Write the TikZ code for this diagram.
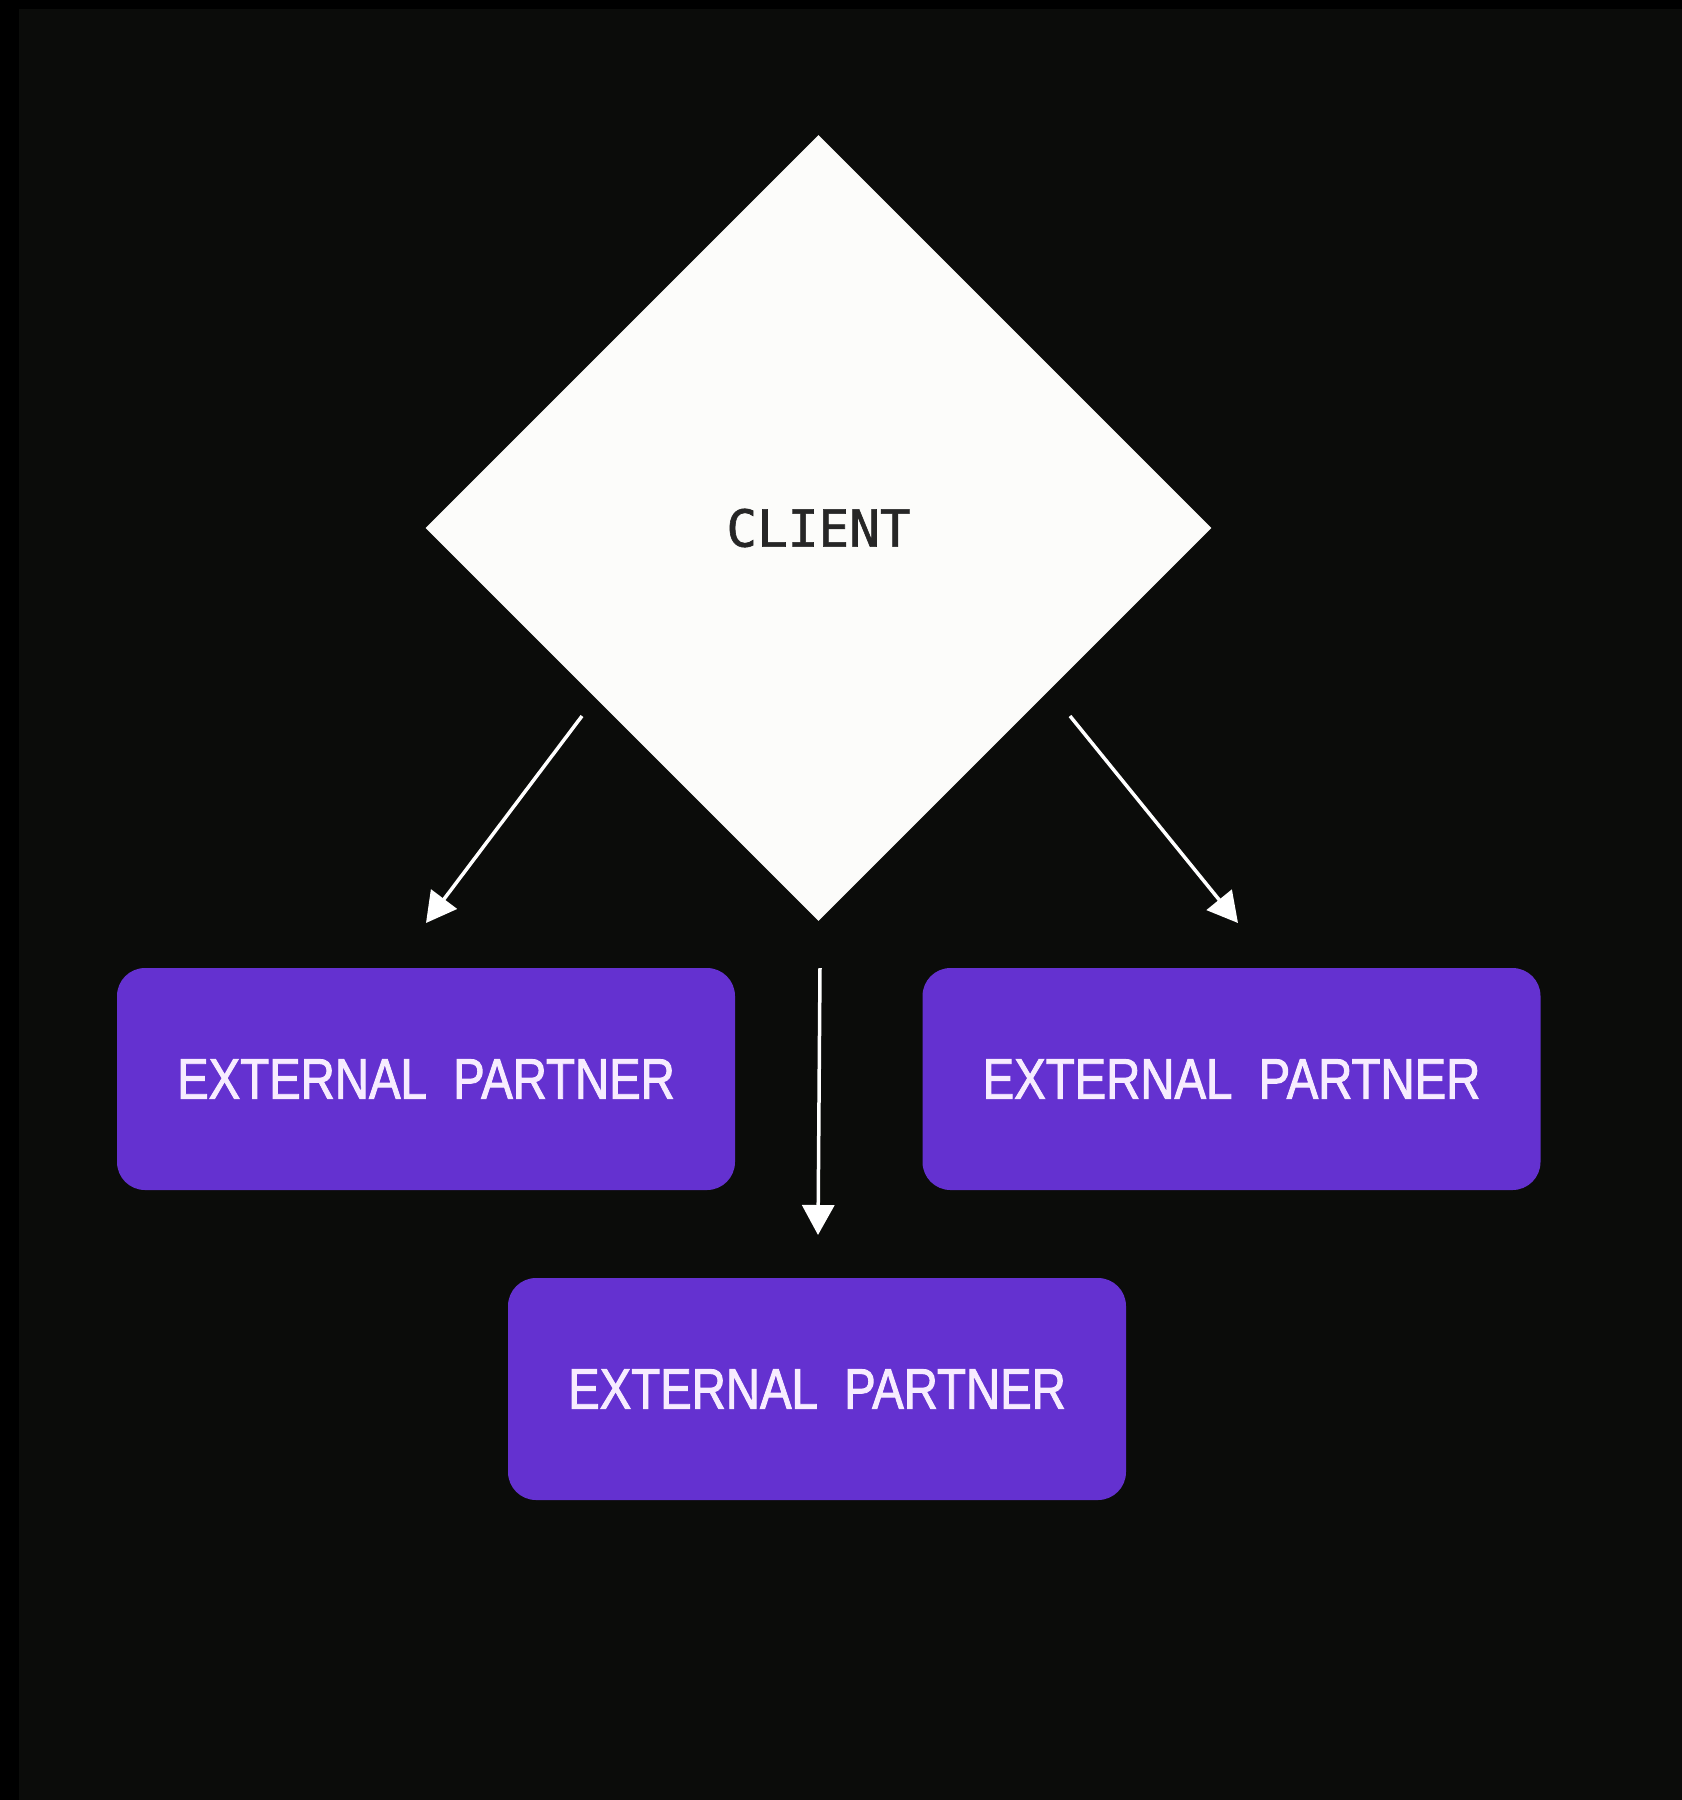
\documentclass[tikz,border=0pt]{standalone}
\usepackage{fontspec}
\usetikzlibrary{shapes.geometric,arrows.meta}

\newfontfamily\clientfont[FakeBold=1.2]{DejaVu Sans Mono}
\newfontfamily\partnerfont[FakeStretch=0.83,FakeBold=1.6]{Liberation Sans}

\definecolor{bgdark}{HTML}{0B0C0A}
\definecolor{boxpurple}{HTML}{6431D0}
\definecolor{diamondwhite}{HTML}{FCFCFA}
\definecolor{labelpink}{HTML}{F7ECFF}

\tikzset{
    client/.style={diamond, aspect=1, fill=diamondwhite, minimum width=786pt, minimum height=786pt, inner sep=0pt, text=black!85, font=\clientfont\fontsize{51}{60}\selectfont},
    partner/.style={rectangle, rounded corners=28pt, fill=boxpurple, minimum width=618pt, minimum height=222pt, text=labelpink, font=\partnerfont\fontsize{57}{66}\selectfont},
    link/.style={draw=white, line width=3.5pt, -{Triangle[length=30pt,width=32pt]}}
}

\begin{document}
\begin{tikzpicture}[x=1pt, y=-1pt]
        % Background
        \fill[black] (0,0) rectangle (1682,1800);
        \fill[bgdark] (19,9) rectangle (1682,1800);
        \useasboundingbox (0,0) rectangle (1682,1800);

        % Pieces
        \node[client] (client) at (818.5, 528) {CLIENT};
        \node[partner] (leftpartner) at (426, 1079) {EXTERNAL\ \ PARTNER};
        \node[partner] (rightpartner) at (1231.5, 1079) {EXTERNAL\ \ PARTNER};
        \node[partner] (midpartner) at (817, 1389) {EXTERNAL\ \ PARTNER};

        % Arrow ends
        \coordinate (leftstart) at (582, 716);
        \coordinate (leftend) at (426, 923);
        \coordinate (rightstart) at (1070, 716);
        \coordinate (rightend) at (1238, 923);
        \coordinate (midstart) at (820, 968);
        \coordinate (midend) at (818, 1235);

        % Arrows
        \draw[link] (leftstart) -- (leftend);
        \draw[link] (rightstart) -- (rightend);
        \draw[link] (midstart) -- (midend);
\end{tikzpicture}
\end{document}
